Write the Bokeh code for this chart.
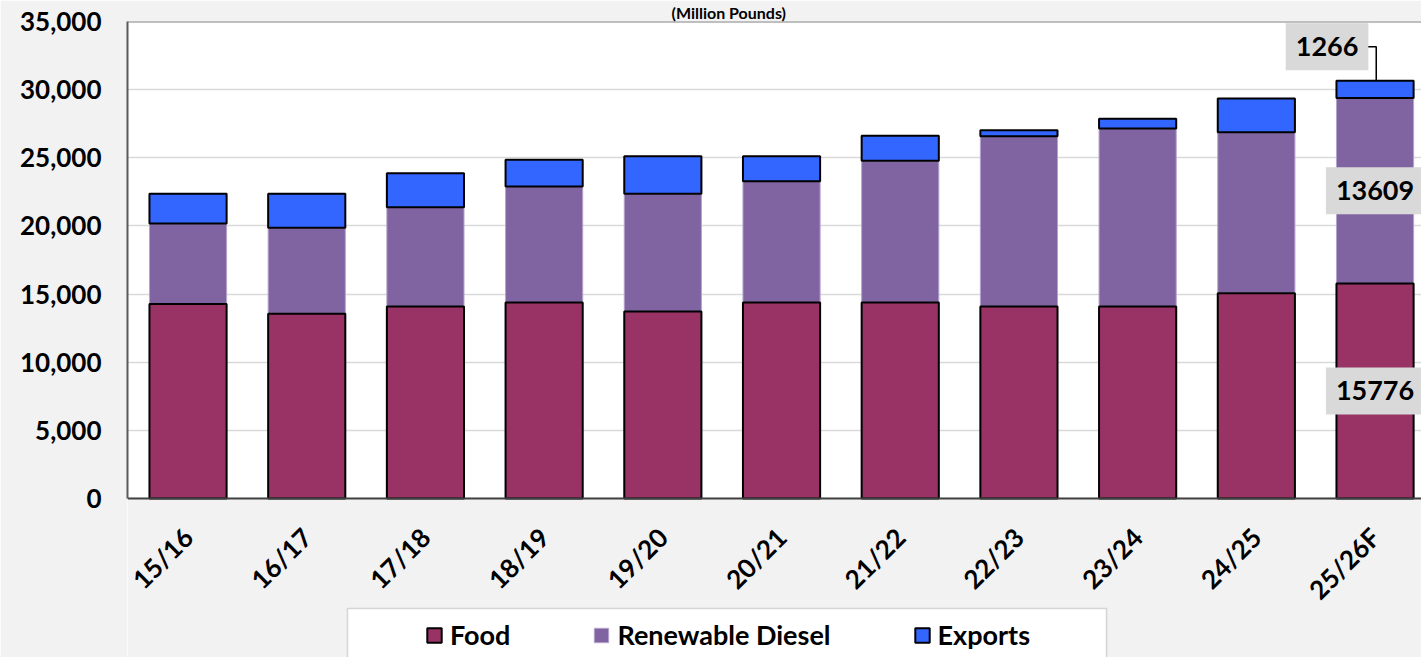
import math
from bokeh.plotting import figure
from bokeh.models import (ColumnDataSource, FixedTicker, Legend, LegendItem, Label,
                          NumeralTickFormatter, Range1d, BoxAnnotation, Span)
from bokeh.embed import file_html
from bokeh.resources import INLINE

# ---- data (million pounds) ----
years = ["15/16", "16/17", "17/18", "18/19", "19/20", "20/21",
         "21/22", "22/23", "23/24", "24/25", "25/26F"]
food = [14270, 13550, 14090, 14380, 13720, 14380, 14380, 14090, 14090, 15065, 15776]
renewable_diesel = [5900, 6310, 7285, 8510, 8635, 8900, 10395, 12495, 13060, 11815, 13609]
exports = [2200, 2500, 2495, 1960, 2760, 1835, 1835, 440, 710, 2470, 1266]
y_ticks = [0, 5000, 10000, 15000, 20000, 25000, 30000, 35000]
title_text = "(Million Pounds)"

FONT = "Lato"
C_FOOD = "#993366"
C_RD = "#8064A2"
C_EXP = "#3366FF"
BG = "#f2f2f2"

# layout constants (pixels)
W, H = 1421, 657
LEFT, TOP = 127, 21
AXIS_Y = 498            # pixel row of the value 0
YMAX = 35000
upx = YMAX / (AXIS_Y - TOP)            # data units per pixel (vertical)
ymin = -(H - AXIS_Y) * upx
X0 = -0.51
ppx = 118.7                            # pixels per category (horizontal)
X1 = X0 + (W - LEFT) / ppx

xs = list(range(len(years)))
rd_bottom = food[:]
rd_top = [f + r for f, r in zip(food, renewable_diesel)]
exp_top = [t + e for t, e in zip(rd_top, exports)]

src = ColumnDataSource(dict(x=xs, food=food, rd_bottom=rd_bottom, rd_top=rd_top,
                            exp_top=exp_top, zero=[0] * len(xs)))

p = figure(width=W, height=H,
           x_range=Range1d(X0, X1), y_range=Range1d(ymin, YMAX),
           output_backend="svg", toolbar_location=None,
           min_border_left=LEFT, min_border_right=0, min_border_top=TOP,
           min_border_bottom=0)

p.background_fill_color = "white"
p.border_fill_color = BG
p.outline_line_color = None

# title in the narrow band above the plot area
p.title.text = title_text
p.title.align = "left"
p.title.offset = 544
p.title.standoff = 0
p.title.text_font = FONT
p.title.text_font_style = "bold"
p.title.text_font_size = "16px"
p.title.text_color = "black"

# grey area under the plot (below the value axis)
p.add_layout(BoxAnnotation(top=0, fill_color=BG, fill_alpha=1.0, line_alpha=0,
                           level="underlay"))
# top frame line
p.add_layout(Span(location=YMAX, dimension="width", line_color="#808080", line_width=2))

BW = 0.65
r_rd = p.vbar(x="x", bottom="rd_bottom", top="rd_top", width=BW, source=src,
              fill_color=C_RD, line_color="#b4a3cc", line_width=1)
r_food = p.vbar(x="x", bottom="zero", top="food", width=BW, source=src,
                fill_color=C_FOOD, line_color="black", line_width=2)
r_exp = p.vbar(x="x", bottom="rd_top", top="exp_top", width=BW, source=src,
               fill_color=C_EXP, line_color="black", line_width=2)

# axes
p.yaxis.ticker = FixedTicker(ticks=y_ticks)
p.yaxis.formatter = NumeralTickFormatter(format="0,0")
p.yaxis.bounds = (0, YMAX)
p.xaxis.ticker = FixedTicker(ticks=xs)
p.xaxis.major_label_overrides = {i: y for i, y in enumerate(years)}
p.xaxis.major_label_orientation = math.pi / 4
p.xaxis.fixed_location = 0

for ax in (p.xaxis[0], p.yaxis[0]):
    ax.major_label_text_font = FONT
    ax.major_label_text_font_style = "bold"
    ax.major_label_text_font_size = "26px"
    ax.major_label_text_color = "black"
    ax.major_tick_in = 0
    ax.major_tick_out = 0
    ax.minor_tick_in = 0
    ax.minor_tick_out = 0
    ax.axis_line_width = 2

p.yaxis.axis_line_color = "#595959"
p.xaxis.axis_line_color = "#404040"
p.yaxis.major_label_standoff = 26
p.xaxis.major_label_standoff = 34

p.xgrid.grid_line_color = None
p.ygrid.grid_line_color = "#d9d9d9"
p.ygrid.grid_line_width = 1.5
p.ygrid.bounds = (0, YMAX)

# data labels for the forecast bar
last = len(xs) - 1
lbl_kw = dict(text_font=FONT, text_font_style="bold", text_font_size="27px",
              text_color="black", text_align="center", text_baseline="middle",
              background_fill_color="#d9d9d9",
              padding=dict(left=10, right=10, top=14, bottom=14))
p.add_layout(Label(x=xs[last], y=food[last] / 2, text=str(food[last]), **lbl_kw))
p.add_layout(Label(x=xs[last], y=rd_bottom[last] + renewable_diesel[last] / 2,
                   text=str(renewable_diesel[last]), **lbl_kw))
p.add_layout(Label(x=xs[last], y=exp_top[last], x_offset=-48, y_offset=34,
                   text=str(exports[last]), **lbl_kw))
# leader line for exports label
lead_y = exp_top[last] + 34 * upx
p.line(x=[xs[last] - 0.09, xs[last] + 0.01, xs[last] + 0.01],
       y=[lead_y, lead_y, exp_top[last]], line_color="black", line_width=1.5)

# legend frame (white box, runs past the bottom edge)
p.add_layout(BoxAnnotation(left=X0 + (347 - LEFT) / ppx, right=X0 + (1106 - LEFT) / ppx,
                           top=-(608 - AXIS_Y) * upx, bottom=-(H + 10 - AXIS_Y) * upx,
                           fill_color="white", fill_alpha=1.0,
                           line_color="#808080", line_width=1.5))

legend = Legend(items=[LegendItem(label="Food", renderers=[r_food]),
                       LegendItem(label="Renewable Diesel", renderers=[r_rd]),
                       LegendItem(label="Exports", renderers=[r_exp])],
                orientation="horizontal", location=(419 - LEFT, 0),
                glyph_width=18, glyph_height=18, label_standoff=7, spacing=82,
                padding=6, margin=0,
                label_text_font=FONT, label_text_font_style="bold",
                label_text_font_size="27px", label_text_color="black",
                background_fill_alpha=0, border_line_alpha=0)
p.add_layout(legend, "center")

open("out.html", "w").write(file_html(p, INLINE))
